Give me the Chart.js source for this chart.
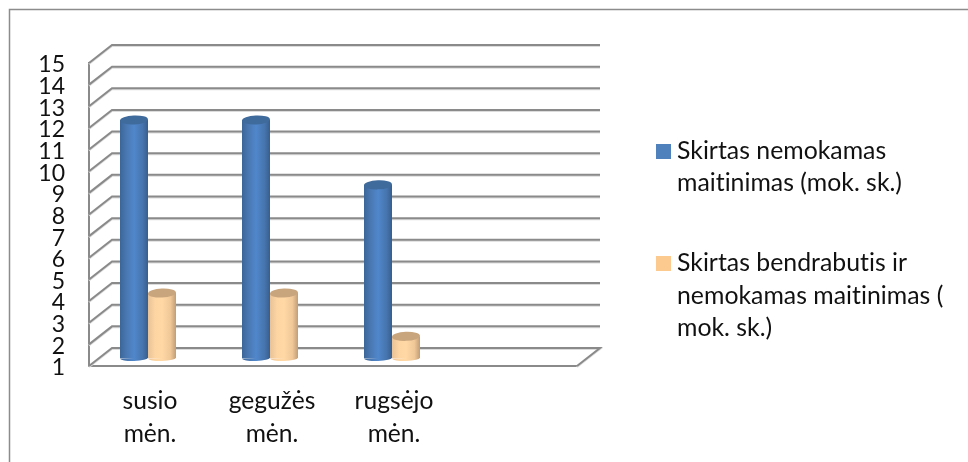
<!DOCTYPE html>
<html>
<head>
<meta charset="utf-8">
<style>
  html, body { margin: 0; padding: 0; background: #fff; }
  #wrap { width: 968px; height: 462px; position: relative; overflow: hidden; }
</style>
<script src="https://cdn.jsdelivr.net/npm/chart.js@4/dist/chart.umd.min.js"></script>
</head>
<body>
<div id="wrap"><canvas id="myChart" width="968" height="462"></canvas></div>
<script>
// data
const categories = [['susio', 'mėn.'], ['gegužės', 'mėn.'], ['rugsėjo', 'mėn.'], ['']];
const mealValues = [12, 12, 9, null];
const dormValues = [4, 4, 2, null];
const mealLabel = ['Skirtas nemokamas', 'maitinimas (mok. sk.)'];
const dormLabel = ['Skirtas bendrabutis ir', 'nemokamas maitinimas (', 'mok. sk.)'];

const FONT = 'Lato, Carlito, sans-serif';
const TEXT = '#111';
const GRID = '#8a8a8a';
// the chart area is the front plane of the box, the back wall sits at this offset
const DEPTH_X = 23;
const DEPTH_Y = -18;
// the bars stand a little way into the box
const BAR_DX = -2;
const BAR_DY = -8;
const BAR_W = 28;

const mealStops = ['#3b6699', '#4a79b3', '#5087cc', '#4775ad', '#365f90'];
const dormStops = ['#e8c297', '#fdd5a3', '#ffd8a6', '#f0c898', '#c09d76'];
const stopAt = [0, 0.25, 0.5, 0.8, 1];

// horizontal shading of one cylinder
function barFill(stops, side) {
    return function (c) {
        const x = c.chart.scales.x.getPixelForValue(c.dataIndex) + side * BAR_W / 2;
        if (!isFinite(x)) return stops[2]; // scales not laid out yet
        const g = c.chart.ctx.createLinearGradient(x - BAR_W / 2, 0, x + BAR_W / 2, 0);
        stops.forEach((s, i) => g.addColorStop(stopAt[i], s));
        return g;
    };
}

function strokeLine(ctx, pts, color, width) {
    ctx.beginPath();
    ctx.moveTo(pts[0][0], pts[0][1]);
    pts.slice(1).forEach(p => ctx.lineTo(p[0], p[1]));
    ctx.strokeStyle = color;
    ctx.lineWidth = width;
    ctx.stroke();
}

const boxPlugin = {
    id: 'box',
    beforeDraw(chart) {
        const ctx = chart.ctx;
        ctx.save();
        ctx.fillStyle = '#fff';
        ctx.fillRect(0, 0, 968, 462);
        // outer frame, cut off on the right and at the bottom
        strokeLine(ctx, [[9.5, 462], [9.5, 9.5], [968, 9.5]], '#8c8c8c', 1.5);
        ctx.restore();
    },
    beforeDatasetsDraw(chart) {
        const ctx = chart.ctx;
        const y = chart.scales.y;
        const a = chart.chartArea;
        ctx.save();
        y.ticks.forEach(t => {
            const py = y.getPixelForValue(t.value);
            const pts = [[a.left, py], [a.left + DEPTH_X, py + DEPTH_Y], [a.right + DEPTH_X, py + DEPTH_Y]];
            if (t.value === y.min) {
                pts.push([a.right, py]);
            }
            strokeLine(ctx, pts.map(p => [p[0], p[1] + 1]), '#dcdcdc', 2);
            strokeLine(ctx, pts, GRID, 2);
        });
        ctx.restore();
        ctx.save();
        ctx.translate(BAR_DX, BAR_DY);
    },
    afterDatasetsDraw(chart) {
        const ctx = chart.ctx;
        const caps = ['#3f6a9c', '#c9a57d'];
        chart.data.datasets.forEach((ds, i) => {
            chart.getDatasetMeta(i).data.forEach((bar, j) => {
                if (ds.data[j] === null) return;
                const r = bar.width / 2;
                // rounded foot, same shading as the body
                ctx.beginPath();
                ctx.ellipse(bar.x, bar.base, r, 3, -0.04, 0, Math.PI);
                ctx.fillStyle = bar.options.backgroundColor;
                ctx.fill();
                // top of the cylinder
                ctx.beginPath();
                ctx.ellipse(bar.x, bar.y, r, 4.5, -0.04, 0, Math.PI * 2);
                ctx.fillStyle = caps[i];
                ctx.fill();
            });
        });
        ctx.restore();
    },
    afterDraw(chart) {
        const ctx = chart.ctx;
        ctx.save();
        ctx.font = '24.8px ' + FONT;
        ctx.letterSpacing = '0.02px'; // keeps the ti ligature off
        ctx.textBaseline = 'alphabetic';
        ctx.fillStyle = '#4f81bd';
        ctx.fillRect(656, 144, 15, 15);
        ctx.fillStyle = '#fcc98f';
        ctx.fillRect(656, 256, 15, 15);
        ctx.fillStyle = TEXT;
        mealLabel.forEach((s, i) => ctx.fillText(s, 677, 159 + i * 32));
        dormLabel.forEach((s, i) => ctx.fillText(s, 677, 271 + i * 32.5));
        ctx.restore();
    }
};

const config = {
    type: 'bar',
    data: {
        labels: categories,
        datasets: [
            {
                label: mealLabel.join(' '),
                data: mealValues,
                base: 1,
                backgroundColor: barFill(mealStops, -1),
                categoryPercentage: 2 * BAR_W / 122,
                barPercentage: 1,
                clip: false
            },
            {
                label: dormLabel.join(' '),
                data: dormValues,
                base: 1,
                backgroundColor: barFill(dormStops, 1),
                categoryPercentage: 2 * BAR_W / 122,
                barPercentage: 1,
                clip: false
            }
        ]
    },
    options: {
        responsive: false,
        animation: false,
        layout: { padding: { left: 0, top: 63, right: 391, bottom: 0 } },
        plugins: { legend: { display: false }, tooltip: { enabled: false }, title: { display: false } },
        scales: {
            x: {
                grid: { display: false },
                border: { display: true, color: GRID, width: 2 },
                ticks: { color: TEXT, font: { family: FONT, size: 24.6, lineHeight: 1.35 }, padding: 10.5, maxRotation: 0, autoSkip: false },
                afterFit(scale) { scale.height = 96; }
            },
            y: {
                min: 1,
                max: 15,
                grid: { display: false },
                border: { display: true, color: GRID, width: 2 },
                ticks: { stepSize: 1, autoSkip: false, color: TEXT, font: { family: FONT, size: 23 }, padding: 16, labelOffset: 2 },
                afterFit(scale) { scale.width = 89; }
            }
        }
    },
    plugins: [boxPlugin]
};

const myChart = new Chart(document.getElementById('myChart').getContext('2d'), config);
</script>
</body>
</html>
